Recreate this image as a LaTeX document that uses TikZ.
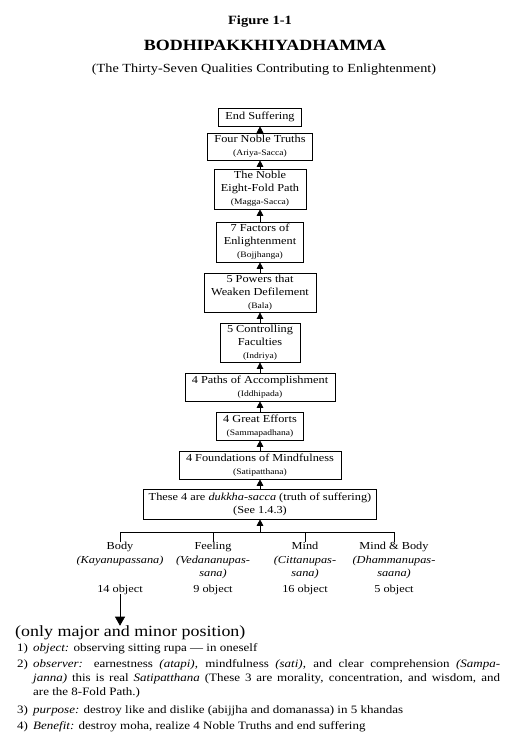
\documentclass[tikz,border=0pt]{standalone}
\usepackage{fontspec}
\setmainfont{Liberation Serif}[FakeStretch=1.15]
\usetikzlibrary{arrows.meta, positioning}

\newcommand{\pali}[1]{{\fontsize{8.3}{10}\selectfont(#1)}}

\begin{document}
\begin{tikzpicture}[x=1pt, y=-1pt,
  stage/.style={draw, line width=.6pt, align=center, inner xsep=7pt, inner ysep=2pt,
    font=\fontsize{10.7}{13}\selectfont},
  up/.style={-{Triangle[width=6.5pt,length=6.5pt]}, line width=.7pt},
  down/.style={-{Triangle[width=10pt,length=9pt]}, line width=.7pt},
  col/.style={align=center, anchor=north, inner sep=0pt, font=\fontsize{10.7}{13.5}\selectfont}]
  \useasboundingbox (0,0) rectangle (524,746);

  \node[font=\bfseries\fontsize{12.6}{15}\selectfont] (fig) at (260,22) {Figure 1-1};
  \node[font=\bfseries\fontsize{15.6}{18}\selectfont] (title) at (265,45) {BODHIPAKKHIYADHAMMA};
  \node[font=\fontsize{12.4}{15}\selectfont] (subtitle) at (264,70) {(The Thirty-Seven Qualities Contributing to Enlightenment)};

  \node[stage, minimum height=18pt] (end) at (260,117) {End Suffering};
  \node[stage, minimum height=27pt] (truths) at (260,146.5) {Four Noble Truths\\\pali{Ariya-Sacca}};
  \node[stage, minimum height=40pt] (path) at (260,189) {The Noble\\Eight-Fold Path\\\pali{Magga-Sacca}};
  \node[stage, minimum height=40pt] (factors) at (260,242) {7 Factors of\\Enlightenment\\\pali{Bojjhanga}};
  \node[stage, minimum height=39pt] (powers) at (260,292.5) {5 Powers that\\Weaken Defilement\\\pali{Bala}};
  \node[stage, minimum height=39pt] (faculties) at (260,342.5) {5 Controlling\\Faculties\\\pali{Indriya}};
  \node[stage, minimum height=28pt] (iddhi) at (260,387) {4 Paths of Accomplishment\\\pali{Iddhipada}};
  \node[stage, minimum height=28pt] (efforts) at (260,426) {4 Great Efforts\\\pali{Sammapadhana}};
  \node[stage, minimum height=28pt] (found) at (260,465) {4 Foundations of Mindfulness\\\pali{Satipatthana}};
  \node[stage, minimum height=30pt, inner xsep=5pt] (dukkha) at (260,504) {These 4 are \textit{dukkha-sacca} (truth of suffering)\\(See 1.4.3)};

  \foreach \a/\b in {truths/end, path/truths, factors/path, powers/factors, faculties/powers,
      iddhi/faculties, efforts/iddhi, found/efforts, dukkha/found}
    \draw[up] (\a) -- (\b);

  % the four foundations
  \coordinate (fork) at (260,532);
  \draw[up] (fork) -- (dukkha);
  \foreach \n/\x/\t/\o in {body/120/{Body\\\textit{(Kayanupassana)}}/14,
      feel/213/{Feeling\\\textit{(Vedananupas-}\\\textit{sana)}}/9,
      mind/305/{Mind\\\textit{(Cittanupas-}\\\textit{sana)}}/16,
      both/394/{Mind \& Body\\\textit{(Dhammanupas-}\\\textit{saana)}}/5} {
    \node[col] (\n) at (\x,542) {\t};
    \node[col, anchor=base] (\n-count) at (\x,592) {\o{} object};
    \draw (\n.north |- fork) -- (\n);
  }
  \draw (body.north |- fork) -- (both.north |- fork);

  \node[anchor=west, inner sep=0pt, font=\fontsize{15.6}{18}\selectfont] (note) at (15,633) {(only major and minor position)};
  \draw[down] (body-count) -- (body-count |- note.north);

  \node[anchor=north west, align=left, inner sep=0pt, font=\fontsize{11.3}{14}\selectfont] (notes) at (17,643) {%
    \makebox[16pt][l]{1)}\textit{object:} observing sitting rupa --- in oneself\\[2pt]
    \makebox[16pt][l]{2)}\makebox[467pt][s]{\textit{observer:} earnestness \textit{(atapi)}, mindfulness \textit{(sati)}, and clear comprehension \textit{(Sampa-}}\\
    \hspace*{16pt}\makebox[467pt][s]{\textit{janna)} this is real \textit{Satipatthana} (These 3 are morality, concentration, and wisdom, and}\\
    \hspace*{16pt}are the 8-Fold Path.)\\[4pt]
    \makebox[16pt][l]{3)}\textit{purpose:} destroy like and dislike (abijjha and domanassa) in 5 khandas\\[2pt]
    \makebox[16pt][l]{4)}\textit{Benefit:} destroy moha, realize 4 Noble Truths and end suffering};
\end{tikzpicture}
\end{document}
